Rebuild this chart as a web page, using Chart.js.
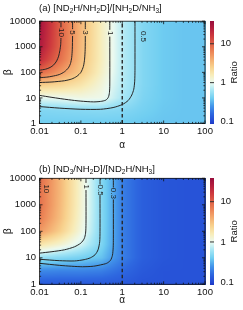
<!DOCTYPE html>
<html>
<head>
<meta charset="utf-8">
<script src="https://cdn.jsdelivr.net/npm/chart.js@4.4.0/dist/chart.umd.min.js"></script>
<style>
    html, body { margin: 0; padding: 0; background: #fff; }
    #wrap { position: relative; width: 243px; height: 310px; overflow: hidden; font-family: 'Liberation Sans', Arial, sans-serif; }
    canvas { position: absolute; left: 0; }
    .ttl { position: absolute; left: 39px; font-size: 9.5px; line-height: 11px; color: #111; white-space: nowrap; z-index: 2; }
    .ttl sub { font-size: 6.5px; line-height: 0; vertical-align: baseline; position: relative; top: 2px; }
</style>
</head>
<body>
<div id="wrap">
    <canvas id="chartA" width="243" height="155" style="top:0"></canvas>
    <canvas id="chartB" width="243" height="155" style="top:155px"></canvas>
    <div class="ttl" style="top:1.5px">(a) [ND<sub>2</sub>H/NH<sub>2</sub>D]/[NH<sub>2</sub>D/NH<sub>3</sub>]</div>
    <div class="ttl" style="top:162.8px">(b) [ND<sub>3</sub>/NH<sub>2</sub>D]/[ND<sub>2</sub>H/NH<sub>3</sub>]</div>
</div>
<script>
// grid nodes the ratio was read at
const alphaNodes = [0.01, 0.0316, 0.1, 0.316, 1, 3.16, 10, 31.6, 100];
const betaNodes = [1, 3.16, 10, 31.6, 100, 316, 1000, 3162, 10000];

// panel (a) ratio, one row per beta node (bottom to top)
const ratioA = [
    [0.40, 0.40, 0.40, 0.40, 0.40, 0.38, 0.37, 0.37, 0.37],
    [0.46, 0.47, 0.48, 0.49, 0.47, 0.42, 0.38, 0.37, 0.37],
    [0.95, 1.0, 1.1, 1.05, 0.65, 0.45, 0.39, 0.37, 0.37],
    [2.6, 2.3, 1.8, 1.2, 0.70, 0.47, 0.39, 0.37, 0.37],
    [9, 5, 2.8, 1.4, 0.72, 0.47, 0.39, 0.37, 0.37],
    [20, 8, 3.2, 1.5, 0.72, 0.47, 0.39, 0.37, 0.37],
    [28, 9.5, 3.4, 1.5, 0.72, 0.47, 0.39, 0.37, 0.37],
    [30, 10, 3.5, 1.5, 0.72, 0.47, 0.39, 0.37, 0.37],
    [32, 10, 3.5, 1.5, 0.72, 0.47, 0.39, 0.37, 0.37]
];

// panel (b) ratio
const ratioB = [
    [0.13, 0.13, 0.13, 0.13, 0.13, 0.12, 0.12, 0.12, 0.12],
    [0.22, 0.21, 0.21, 0.2, 0.16, 0.13, 0.12, 0.12, 0.12],
    [0.55, 0.48, 0.42, 0.36, 0.2, 0.14, 0.125, 0.12, 0.12],
    [1.8, 1.3, 0.85, 0.45, 0.2, 0.14, 0.125, 0.12, 0.12],
    [5, 2.6, 1.15, 0.47, 0.2, 0.14, 0.125, 0.12, 0.12],
    [7, 3.2, 1.25, 0.48, 0.2, 0.14, 0.125, 0.12, 0.12],
    [8, 3.4, 1.3, 0.48, 0.2, 0.14, 0.125, 0.12, 0.12],
    [8, 3.5, 1.3, 0.48, 0.2, 0.14, 0.125, 0.12, 0.12],
    [8.5, 3.5, 1.3, 0.48, 0.2, 0.14, 0.125, 0.12, 0.12]
];

const xTicks = [0.01, 0.1, 1, 10, 100];
const xTickLabels = ['0.01', '0.1', '1', '10', '100'];
const yTicks = [1, 10, 100, 1000, 10000];
const yTickLabels = ['1', '10', '100', '1000', '10000'];
const cbTicks = [0.1, 1, 10];
const cbTickLabels = ['0.1', '1', '10'];
const cbRange = [0.089, 38];

// contour lines (alpha, beta); "Top" parts sit above the label gap
const a10 = [[0.01, 121], [0.014, 133], [0.018, 155], [0.022, 195], [0.026, 280], [0.029, 430], [0.031, 700], [0.0325, 1200], [0.033, 2200]];
const a10Top = [[0.033, 5800], [0.033, 10000]];
const a5 = [[0.01, 62], [0.015, 65], [0.02, 70], [0.03, 82], [0.04, 105], [0.05, 150], [0.056, 220], [0.06, 380], [0.062, 800], [0.063, 2650]];
const a5Top = [[0.063, 4900], [0.063, 10000]];
const a3 = [[0.01, 40], [0.02, 42], [0.04, 47], [0.06, 55], [0.08, 70], [0.1, 100], [0.115, 170], [0.123, 330], [0.127, 800], [0.128, 2650]];
const a3Top = [[0.128, 4900], [0.128, 10000]];
const a1 = [[0.01, 12.6], [0.02, 10.5], [0.05, 8.5], [0.1, 7.5], [0.2, 7], [0.3, 7.3], [0.4, 8.2], [0.46, 10.5], [0.49, 16], [0.5, 32], [0.5, 2500]];
const a1Top = [[0.5, 4600], [0.5, 10000]];
const a05 = [[0.01, 4.6], [0.03, 4.0], [0.1, 3.6], [0.3, 3.6], [0.6, 4.2], [1, 5.5], [1.4, 8], [1.7, 13], [1.9, 22], [2.0, 45], [2.03, 120], [2.03, 10000]];
const labelsA = [['10', 0.033, 3600], ['5', 0.063, 3600], ['3', 0.128, 3600], ['1', 0.5, 3400], ['0.5', 3.2, 2530]];

const b1 = [[0.01, 15], [0.02, 17], [0.04, 20], [0.07, 26], [0.1, 36], [0.12, 52], [0.13, 85], [0.133, 200], [0.133, 3600]];
const b1Top = [[0.133, 6700], [0.133, 10000]];
const b05 = [[0.01, 8.8], [0.03, 7.8], [0.07, 7.6], [0.12, 8.5], [0.17, 10], [0.22, 13], [0.26, 20], [0.285, 40], [0.29, 100], [0.29, 2240]];
const b05Top = [[0.29, 5900], [0.29, 10000]];
const b03 = [[0.01, 6.2], [0.03, 5.2], [0.06, 4.8], [0.11, 4.6], [0.2, 4.8], [0.3, 5.4], [0.42, 6.2], [0.52, 8], [0.58, 12.5], [0.605, 25], [0.61, 55], [0.61, 1600]];
const b03Top = [[0.61, 4500], [0.61, 10000]];
const labelsB = [['10', 0.0148, 4000], ['1', 0.133, 4800], ['0.5', 0.29, 3600], ['0.3', 0.61, 2700]];

const alphaOne = [[1, 1], [1, 10000]];

const FONT = "'Liberation Sans', Arial, sans-serif";

// colour map on log10(ratio)
const cmap = [
    [-1.06, [30, 56, 196]], [-1.0, [34, 70, 210]], [-0.8, [46, 104, 224]],
    [-0.6, [68, 150, 234]], [-0.4, [112, 206, 241]], [-0.2, [166, 230, 245]],
    [0.0, [236, 250, 240]], [0.2, [248, 236, 184]], [0.4, [248, 210, 142]],
    [0.6, [244, 172, 112]], [0.8, [236, 132, 86]], [1.0, [222, 96, 70]],
    [1.2, [206, 58, 62]], [1.4, [180, 30, 62]], [1.6, [150, 12, 60]]
];

function colorFor(lv) {
    if (lv <= cmap[0][0]) return cmap[0][1];
    for (let k = 0; k < cmap.length - 1; k++) {
        const [l0, c0] = cmap[k], [l1, c1] = cmap[k + 1];
        if (lv <= l1) {
            const f = (lv - l0) / (l1 - l0);
            return [0, 1, 2].map(i => Math.round(c0[i] + (c1[i] - c0[i]) * f));
        }
    }
    return cmap[cmap.length - 1][1];
}

function locate(nodes, v) {
    const lv = Math.log10(v);
    const ln = nodes.map(Math.log10);
    if (lv <= ln[0]) return [0, 0];
    for (let k = 0; k < ln.length - 1; k++) {
        if (lv <= ln[k + 1]) return [k, (lv - ln[k]) / (ln[k + 1] - ln[k])];
    }
    return [ln.length - 2, 1];
}

function sample(grid, a, b) {
    const [i, fx] = locate(alphaNodes, a);
    const [j, fy] = locate(betaNodes, b);
    const g = (r, c) => Math.log10(grid[r][c]);
    return g(j, i) * (1 - fx) * (1 - fy) + g(j, i + 1) * fx * (1 - fy) +
        g(j + 1, i) * (1 - fx) * fy + g(j + 1, i + 1) * fx * fy;
}

const heatmapPlugin = grid => ({
    id: 'heat',
    beforeDatasetsDraw(chart) {
        const { ctx, chartArea: ca, scales: { x, y } } = chart;
        const w = Math.ceil(ca.right - ca.left), h = Math.ceil(ca.bottom - ca.top);
        const off = document.createElement('canvas');
        off.width = w; off.height = h;
        const octx = off.getContext('2d');
        const img = octx.createImageData(w, h);
        for (let j = 0; j < h; j++) {
            const b = y.getValueForPixel(ca.top + j + 0.5);
            for (let i = 0; i < w; i++) {
                const a = x.getValueForPixel(ca.left + i + 0.5);
                const c = colorFor(sample(grid, a, b));
                const k = (j * w + i) * 4;
                img.data[k] = c[0]; img.data[k + 1] = c[1]; img.data[k + 2] = c[2]; img.data[k + 3] = 255;
            }
        }
        octx.putImageData(img, 0, 0);
        ctx.drawImage(off, ca.left, ca.top, w, h);
    }
});

// frame + inward log ticks on all four sides
const framePlugin = {
    id: 'frame',
    afterDatasetsDraw(chart) {
        const { ctx, chartArea: ca, scales: { x, y } } = chart;
        ctx.save();
        ctx.strokeStyle = '#111';
        ctx.lineWidth = 0.8;
        ctx.beginPath();
        const tick = (vals, axis) => {
            vals.forEach((d, n) => {
                for (let k = 1; k <= 9; k++) {
                    const v = d * k;
                    if (k > 1 && n === vals.length - 1) break;
                    const len = k === 1 ? 3 : 1.6;
                    if (axis === 'x') {
                        const p = x.getPixelForValue(v);
                        ctx.moveTo(p, ca.bottom); ctx.lineTo(p, ca.bottom - len);
                        ctx.moveTo(p, ca.top); ctx.lineTo(p, ca.top + len);
                    } else {
                        const p = y.getPixelForValue(v);
                        ctx.moveTo(ca.left, p); ctx.lineTo(ca.left + len, p);
                        ctx.moveTo(ca.right, p); ctx.lineTo(ca.right - len, p);
                    }
                }
            });
        };
        tick(xTicks, 'x');
        tick(yTicks, 'y');
        ctx.stroke();
        ctx.strokeRect(ca.left, ca.top, ca.right - ca.left, ca.bottom - ca.top);
        ctx.restore();
    }
};

const labelPlugin = labels => ({
    id: 'clabels',
    afterDatasetsDraw(chart) {
        const { ctx, scales: { x, y } } = chart;
        ctx.save();
        ctx.fillStyle = '#1a1a1a';
        ctx.font = '8px ' + FONT;
        ctx.textAlign = 'center';
        ctx.textBaseline = 'middle';
        labels.forEach(([t, a, b]) => {
            ctx.save();
            ctx.translate(x.getPixelForValue(a), y.getPixelForValue(b));
            ctx.rotate(Math.PI / 2);
            ctx.fillText(t, 0, 0);
            ctx.restore();
        });
        ctx.restore();
    }
});

const colorbarPlugin = {
    id: 'cbar',
    afterDraw(chart) {
        const { ctx, chartArea: ca, scales: { c } } = chart;
        const x0 = ca.right + 5, bw = 4;
        ctx.save();
        for (let py = Math.floor(ca.top); py < ca.bottom; py++) {
            const v = c.getValueForPixel(py + 0.5);
            const col = colorFor(Math.log10(v));
            ctx.fillStyle = `rgb(${col[0]},${col[1]},${col[2]})`;
            ctx.fillRect(x0, py, bw, 1);
        }
        ctx.fillStyle = '#333';
        [1, 10].forEach(v => {
            const p = c.getPixelForValue(v);
            ctx.fillRect(x0, p - 0.5, bw, 1);
        });
        ctx.fillStyle = '#111';
        ctx.font = '9.5px ' + FONT;
        ctx.textAlign = 'center';
        ctx.textBaseline = 'middle';
        ctx.translate(234, (ca.top + ca.bottom) / 2);
        ctx.rotate(-Math.PI / 2);
        ctx.fillText('Ratio', 0, 0);
        ctx.restore();
    }
};

function lineSet(points, dash) {
    return {
        data: points.map(([a, b]) => ({ x: a, y: b })),
        showLine: true,
        pointRadius: 0,
        borderColor: '#262626',
        borderWidth: dash ? 1.4 : 1,
        borderDash: dash ? [3.5, 2.5] : [],
        tension: dash ? 0 : 0.25,
        fill: false
    };
}

function makeChart(id, grid, lines, labels, top, bottom) {
    const tickFont = { family: FONT, size: 9.5 };
    const datasets = lines.map(l => lineSet(l, false));
    datasets.push(lineSet(alphaOne, true));

    new Chart(document.getElementById(id).getContext('2d'), {
        type: 'scatter',
        data: { datasets },
        options: {
            responsive: false,
            animation: false,
            devicePixelRatio: 1,
            layout: { padding: { top: top, left: 0, right: 0, bottom: 0 } },
            plugins: { legend: { display: false }, tooltip: { enabled: false } },
            scales: {
                x: {
                    type: 'logarithmic', min: 0.01, max: 100, position: 'bottom',
                    afterBuildTicks: s => { s.ticks = xTicks.map(v => ({ value: v })); },
                    afterFit: s => { s.height = 155 - bottom; },
                    ticks: { callback: (v, i) => xTickLabels[i], maxRotation: 0, autoSkip: false, padding: 2, color: '#111', font: tickFont },
                    grid: { display: false, drawTicks: false },
                    border: { display: false },
                    title: { display: true, text: 'α', color: '#111', font: { family: FONT, size: 10 }, padding: { top: 0, bottom: 4 } }
                },
                y: {
                    type: 'logarithmic', min: 1, max: 10000, position: 'left',
                    afterBuildTicks: s => { s.ticks = yTicks.map(v => ({ value: v })); },
                    afterFit: s => { s.width = 39.5; },
                    ticks: { callback: (v, i) => yTickLabels[i], autoSkip: false, padding: 3.5, color: '#111', font: tickFont },
                    grid: { display: false, drawTicks: false },
                    border: { display: false },
                    title: { display: true, text: 'β', color: '#111', font: { family: FONT, size: 10.5 }, padding: { top: 2, bottom: 0 } }
                },
                c: {
                    type: 'logarithmic', min: cbRange[0], max: cbRange[1], position: 'right',
                    afterBuildTicks: s => { s.ticks = cbTicks.map(v => ({ value: v })); },
                    afterFit: s => { s.width = 38; },
                    ticks: { callback: (v, i) => cbTickLabels[i], autoSkip: false, padding: 15.5, color: '#111', font: tickFont },
                    grid: { display: false, drawTicks: false },
                    border: { display: false }
                }
            }
        },
        plugins: [heatmapPlugin(grid), framePlugin, labelPlugin(labels), colorbarPlugin]
    });
}

makeChart('chartA', ratioA, [a10, a10Top, a5, a5Top, a3, a3Top, a1, a1Top, a05], labelsA, 17.5, 123.5);
makeChart('chartB', ratioB, [b1, b1Top, b05, b05Top, b03, b03Top], labelsB, 23.3, 129.3);
</script>
</body>
</html>
